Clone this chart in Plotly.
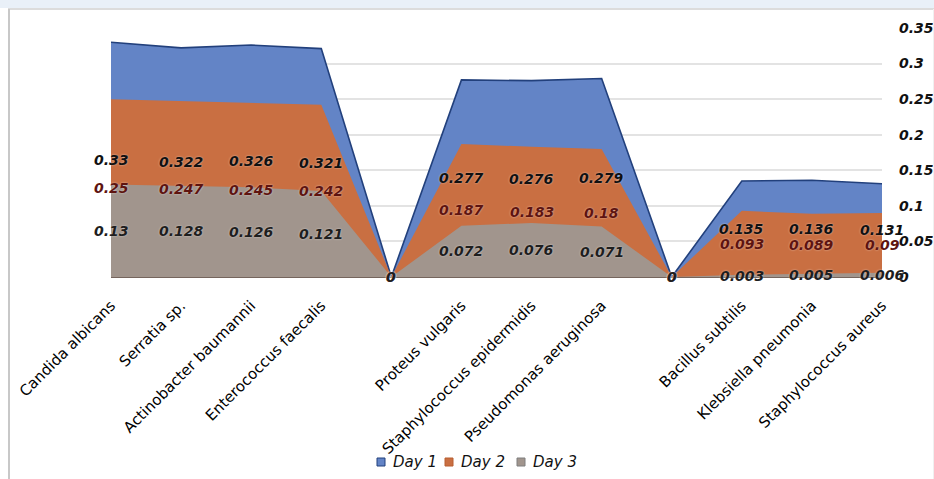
import plotly.graph_objects as go

# Organisms on the x axis; empty entries are spacer points between the groups
categories = [
    "Candida albicans", "Serratia sp.", "Actinobacter baumannii", "Enterococcus faecalis", "",
    "Proteus vulgaris", "Staphylococcus epidermidis", "Pseudomonas aeruginosa", "",
    "Bacillus subtilis", "Klebsiella pneumonia", "Staphylococcus aureus",
]
day1 = [0.33, 0.322, 0.326, 0.321, 0, 0.277, 0.276, 0.279, 0, 0.135, 0.136, 0.131]
day2 = [0.25, 0.247, 0.245, 0.242, 0, 0.187, 0.183, 0.18, 0, 0.093, 0.089, 0.09]
day3 = [0.13, 0.128, 0.126, 0.121, 0, 0.072, 0.076, 0.071, 0, 0.003, 0.005, 0.006]
series_names = ["Day 1", "Day 2", "Day 3"]
y_ticks = [0, 0.05, 0.1, 0.15, 0.2, 0.25, 0.3, 0.35]

W, H = 934, 479
ML, MR, MT, MB = 111, 52, 28, 202
PW, PH = W - ML - MR, H - MT - MB


def px_x(px):
    return (px - ML) / PW


def px_y(py):
    return (H - MB - py) / PH


x = list(range(len(categories)))
fills = ["#6384C6", "#C96F42", "#A1958D"]
lines = ["#22407C", "#C96F42", "#A1958D"]
line_w = [1.6, 0, 0]
swatch_edges = ["#22407C", "#B85E30", "#7F7F7F"]
label_colors = ["#111111", "#5E1410", "#1E1E1E"]
values = [day1, day2, day3]
FONT = "DejaVu Sans"

fig = go.Figure()

for name, vals, fc, lc, lw in zip(series_names, values, fills, lines, line_w):
    fig.add_trace(go.Scatter(
        x=x, y=vals, mode="lines", fill="tozeroy", fillcolor=fc,
        line=dict(color=lc, width=lw), name=name, showlegend=False,
        hoverinfo="skip",
    ))

annotations = []
# Data labels sit halfway up each series' value
for vals, col in zip(values, label_colors):
    for xi, v in zip(x, vals):
        annotations.append(dict(
            x=xi, y=v / 2, xref="x", yref="y", text=f"{v:g}", showarrow=False,
            xanchor="center", yanchor="middle",
            font=dict(family=FONT, size=14, color=col, style="italic", weight="bold",
                      shadow="0px 0px 2px rgba(255,255,255,0.6)"),
        ))

# Legend row: square swatches with italic names
legend_x = [381, 449, 521]
legend_y = 462
shapes = []
for lx, fc, ec, name in zip(legend_x, fills, swatch_edges, series_names):
    shapes.append(dict(
        type="rect", xref="paper", yref="paper",
        x0=px_x(lx - 4), x1=px_x(lx + 4), y0=px_y(legend_y + 4), y1=px_y(legend_y - 4),
        fillcolor=fc, line=dict(color=ec, width=1),
    ))
    annotations.append(dict(
        x=px_x(lx + 10), y=px_y(legend_y), xref="paper", yref="paper", text=name,
        showarrow=False, xanchor="left", yanchor="middle",
        font=dict(family=FONT, size=15, color="#111111", style="italic"),
    ))

# Outer frame: pale strip along the top, thin grey edges
shapes += [
    dict(type="rect", xref="paper", yref="paper", x0=px_x(0), x1=px_x(W), y0=px_y(0), y1=px_y(8),
         fillcolor="#E9F0F8", line=dict(width=0), layer="below"),
    dict(type="line", xref="paper", yref="paper", x0=px_x(8), x1=px_x(W), y0=px_y(9), y1=px_y(9),
         line=dict(color="#D0D0D0", width=1.5)),
    dict(type="line", xref="paper", yref="paper", x0=px_x(9), x1=px_x(9), y0=px_y(9), y1=px_y(H),
         line=dict(color="#C8C8C8", width=2)),
    dict(type="line", xref="paper", yref="paper", x0=px_x(933.5), x1=px_x(933.5), y0=px_y(9), y1=px_y(H),
         line=dict(color="#F0F0F0", width=1)),
]

fig.update_layout(
    width=W, height=H,
    margin=dict(l=ML, r=MR, t=MT, b=MB, autoexpand=False),
    paper_bgcolor="white", plot_bgcolor="white",
    shapes=shapes, annotations=annotations,
    showlegend=False,
    xaxis=dict(
        range=[0, len(categories) - 1], tickmode="array", tickvals=x, ticktext=categories,
        tickangle=-45, showgrid=False, zeroline=False, showline=False, ticks="",
        ticklabelstandoff=16, automargin=False,
        tickfont=dict(family=FONT, size=15, color="#000000"),
    ),
    yaxis=dict(
        side="right", range=[0, 0.35], tickmode="array", tickvals=y_ticks,
        ticktext=[f"{v:g}" for v in y_ticks],
        showgrid=True, gridcolor="#E3E3E3", gridwidth=1.5,
        zeroline=True, zerolinecolor="#75655D", zerolinewidth=2,
        showline=False, ticks="", ticklabelstandoff=16, automargin=False,
        tickfont=dict(family=FONT, size=14, color="#111111", style="italic", weight="bold"),
    ),
)

fig.write_html("out.html")
